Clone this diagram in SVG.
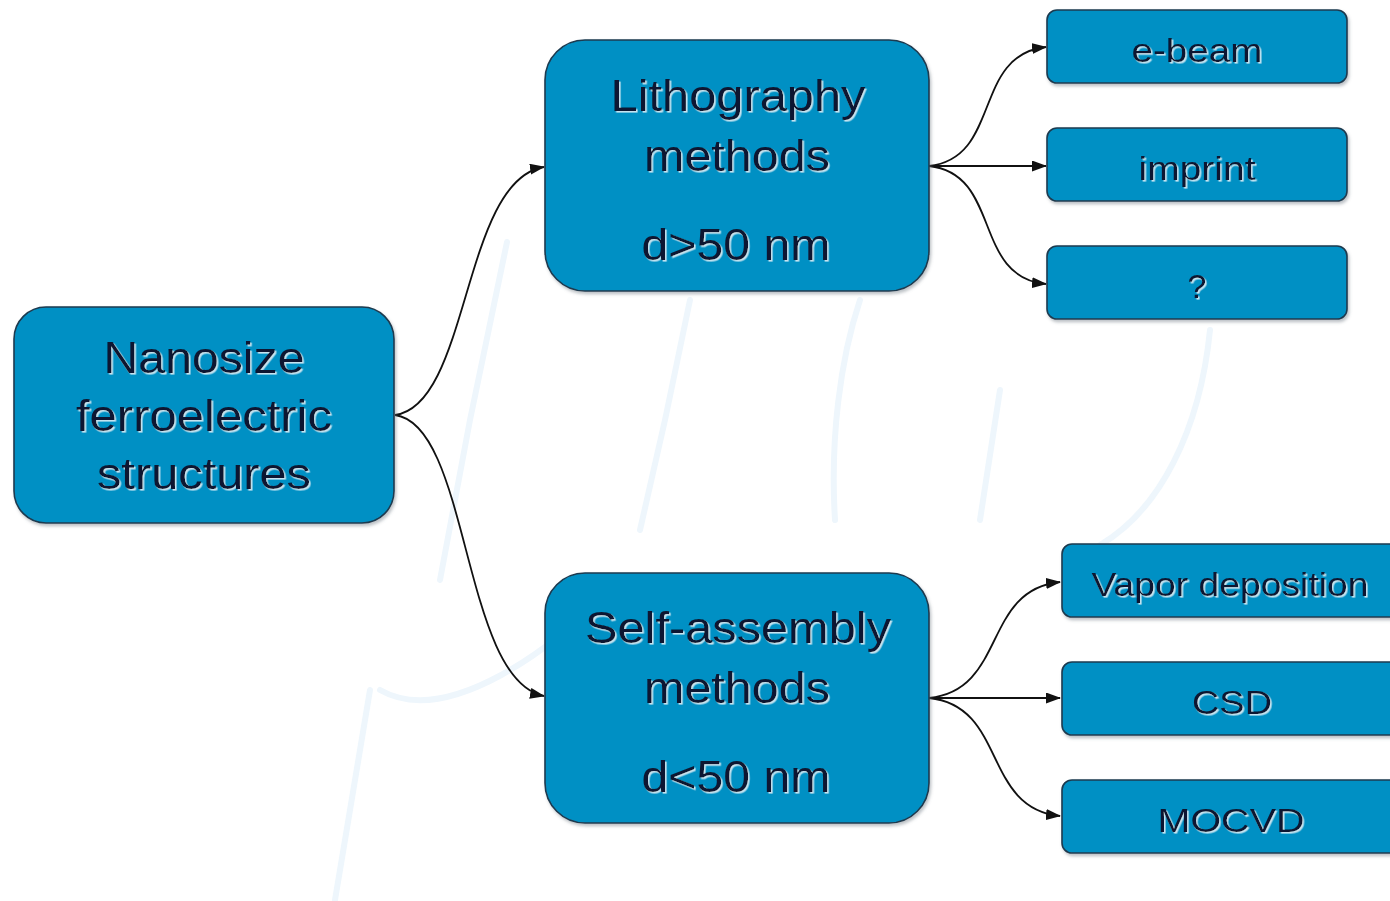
<svg xmlns="http://www.w3.org/2000/svg" width="1390" height="901" viewBox="0 0 1390 901">
  <style>
    .box { fill: #0690c4; stroke: #1b3a4f; stroke-width: 1.6; filter: url(#bshadow); }
    .big { font-family: "Liberation Sans", Arial, sans-serif; font-size: 45px; fill: #0b1830; text-anchor: middle; filter: url(#tshadow); }
    .small { font-family: "Liberation Sans", Arial, sans-serif; font-size: 34px; fill: #0b1830; text-anchor: middle; filter: url(#tshadow); }
    .conn { fill: none; stroke: #111; stroke-width: 1.8; marker-end: url(#arrow); }
    .wm { fill: none; stroke: #eef6fc; stroke-width: 6; stroke-linecap: round; }
  </style>
  <defs>
    <marker id="arrow" viewBox="0 0 15 11" refX="14" refY="5.5" markerWidth="15" markerHeight="11" markerUnits="userSpaceOnUse" orient="auto">
      <path d="M0,0 L15,5.5 L0,11 Z" fill="#111"/>
    </marker>
    <filter id="bshadow" x="-10%" y="-10%" width="125%" height="130%">
      <feDropShadow dx="1.5" dy="2.5" stdDeviation="1.5" flood-color="#6a7680" flood-opacity="0.45"/>
    </filter>
    <filter id="tshadow" x="-5%" y="-20%" width="115%" height="150%">
      <feDropShadow dx="1.6" dy="1.6" stdDeviation="0.4" flood-color="#e8f2f8" flood-opacity="0.85"/>
    </filter>
  </defs>
  <rect width="1390" height="901" fill="#ffffff"/>
  <g id="watermark">
    <path class="wm" d="M507,242 L470,420 L440,580"/>
    <path class="wm" d="M690,300 L665,420 L640,530"/>
    <path class="wm" d="M860,300 C840,360 830,440 835,520"/>
    <path class="wm" d="M1000,390 L980,520"/>
    <path class="wm" d="M1210,330 C1200,430 1160,510 1100,545"/>
    <path class="wm" d="M370,690 L335,900"/>
    <path class="wm" d="M380,690 C450,730 560,640 600,600"/>
  </g>
  <g id="connectors">
    <path class="conn" d="M395,415 C470,405 462,180 544,167"/>
    <path class="conn" d="M395,415 C470,425 462,680 544,696"/>
    <path class="conn" d="M929,166 C1002,158 972,55 1046,47"/>
    <path class="conn" d="M929,166 L1046,166"/>
    <path class="conn" d="M929,166 C1002,174 972,277 1046,284"/>
    <path class="conn" d="M929,698 C1007,690 982,590 1060,582"/>
    <path class="conn" d="M929,698 L1060,698"/>
    <path class="conn" d="M929,698 C1007,706 982,808 1060,816"/>
  </g>
  <g id="root">
    <rect class="box" x="14" y="307" width="380" height="216" rx="32"/>
    <text class="big" x="204" y="373" textLength="201" lengthAdjust="spacingAndGlyphs">Nanosize</text>
    <text class="big" x="204" y="431" textLength="256" lengthAdjust="spacingAndGlyphs">ferroelectric</text>
    <text class="big" x="204" y="489" textLength="214" lengthAdjust="spacingAndGlyphs">structures</text>
  </g>
  <g id="litho">
    <rect class="box" x="545" y="40" width="384" height="251" rx="40"/>
    <text class="big" x="738" y="111" textLength="255" lengthAdjust="spacingAndGlyphs">Lithography</text>
    <text class="big" x="737" y="171" textLength="186" lengthAdjust="spacingAndGlyphs">methods</text>
    <text class="big" x="736" y="260" textLength="189" lengthAdjust="spacingAndGlyphs">d&gt;50 nm</text>
  </g>
  <g id="selfassembly">
    <rect class="box" x="545" y="573" width="384" height="250" rx="40"/>
    <text class="big" x="738" y="643" textLength="306" lengthAdjust="spacingAndGlyphs">Self-assembly</text>
    <text class="big" x="737" y="703" textLength="186" lengthAdjust="spacingAndGlyphs">methods</text>
    <text class="big" x="736" y="792" textLength="189" lengthAdjust="spacingAndGlyphs">d&lt;50 nm</text>
  </g>
  <g id="ebeam">
    <rect class="box" x="1047" y="10" width="300" height="73" rx="10"/>
    <text class="small" x="1197" y="62" textLength="131" lengthAdjust="spacingAndGlyphs">e-beam</text>
  </g>
  <g id="imprint">
    <rect class="box" x="1047" y="128" width="300" height="73" rx="10"/>
    <text class="small" x="1197" y="180" textLength="117" lengthAdjust="spacingAndGlyphs">imprint</text>
  </g>
  <g id="unknown">
    <rect class="box" x="1047" y="246" width="300" height="73" rx="10"/>
    <text class="small" x="1197" y="298">?</text>
  </g>
  <g id="vapor">
    <rect class="box" x="1062" y="544" width="340" height="73" rx="10"/>
    <text class="small" x="1230" y="596" textLength="277" lengthAdjust="spacingAndGlyphs">Vapor deposition</text>
  </g>
  <g id="csd">
    <rect class="box" x="1062" y="662" width="340" height="73" rx="10"/>
    <text class="small" x="1232" y="714" textLength="80" lengthAdjust="spacingAndGlyphs">CSD</text>
  </g>
  <g id="mocvd">
    <rect class="box" x="1062" y="780" width="340" height="73" rx="10"/>
    <text class="small" x="1231" y="832" textLength="147" lengthAdjust="spacingAndGlyphs">MOCVD</text>
  </g>
</svg>
